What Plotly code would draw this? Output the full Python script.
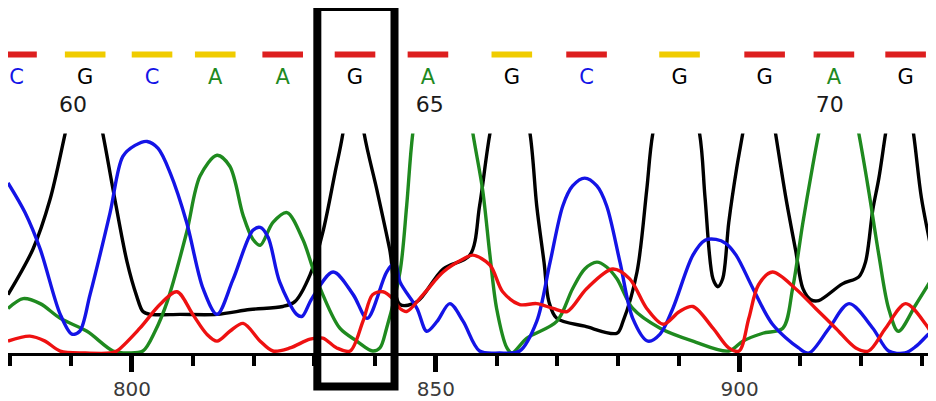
import plotly.graph_objects as go

# ---------------- data (scan position, signal 0-100 where 100 = top of window) -------------
g_scan = [779.6, 783.7, 786.5, 789.0, 792.1, 795.2, 796.9, 799.2, 800.8, 801.8, 803.0, 807.9,
          814.0, 819.4, 824.8, 826.8, 829.3, 831.4, 833.4, 834.7, 836.4, 838.2, 840.3, 842.4,
          844.1, 846.9, 851.2, 855.6, 857.2, 858.9, 862.3, 865.5, 866.6, 867.8, 868.6, 869.9,
          874.5, 879.8, 880.8, 883.1, 884.7, 885.7, 889.5, 893.4, 894.3, 895.6, 896.4, 897.2,
          898.2, 899.5, 900.5, 903.3, 905.9, 907.6, 909.2, 910.4, 911.7, 913.0, 916.9, 919.6,
          920.7, 921.9, 922.9, 924.0, 926.3, 928.6, 929.9, 931.8]
g_signal = [26.6, 47.3, 69.8, 100, 140, 100, 74.3, 41.4, 25.7, 18.9, 17.6, 17.6,
            17.6, 19.8, 21.2, 23.4, 35.6, 55.0, 82.0, 100, 140, 100, 74.3, 47.3,
            22.1, 23.4, 38.3, 44.6, 67.1, 100, 145, 100, 67.1, 41.4, 23.4, 15.8,
            12.2, 9.0, 14.4, 36.9, 74.3, 100, 145, 100, 70.7, 33.8, 30.2, 33.8,
            59.5, 84.2, 100, 145, 100, 70.7, 46.8, 29.3, 24.3, 23.9, 31.5, 34.7,
            41.4, 65.3, 79.7, 100, 140, 100, 70.7, 43.7]

c_scan = [779.6, 782.4, 784.9, 788.2, 790.1, 791.4, 793.1, 796.4, 798.5, 800.5, 802.5, 804.3,
          806.3, 809.0, 811.7, 814.0, 816.6, 819.9, 821.1, 822.4, 824.3, 827.1, 828.0, 829.6,
          833.1, 836.4, 838.7, 841.9, 843.3, 844.1, 846.9, 848.5, 850.2, 852.3, 854.5, 857.2,
          860.5, 863.8, 866.6, 868.8, 870.9, 872.5, 874.5, 876.5, 878.1, 880.3, 882.4, 884.9,
          886.9, 889.0, 892.3, 894.3, 896.1, 897.7, 899.4, 902.2, 905.4, 909.7, 911.4, 914.7,
          918.0, 921.9, 924.5, 927.2, 929.0, 931.1, 932.3]
c_signal = [77.5, 64.0, 47.3, 17.6, 8.6, 9.9, 26.6, 64.0, 89.6, 94.6, 96.4, 93.2,
            82.0, 59.5, 29.3, 17.6, 33.3, 55.9, 57.2, 52.7, 32.4, 17.6, 16.7, 24.8,
            36.9, 26.6, 15.8, 36.9, 41.4, 32.4, 20.3, 9.9, 14.4, 22.5, 14.4, 0.9,
            0.0, 0.9, 14.4, 41.4, 67.1, 76.1, 79.7, 76.1, 67.1, 41.4, 15.8, 5.4,
            8.6, 20.3, 44.6, 51.4, 51.8, 50.0, 44.6, 29.3, 13.1, 2.3, 0.0, 11.3,
            22.5, 11.3, 0.9, 0.0, 3.0, 8.6, 10.8]

a_scan = [779.6, 782.1, 784.9, 788.2, 792.6, 796.9, 799.3, 801.8, 803.8, 805.8, 809.0, 811.2,
          814.0, 816.1, 818.3, 819.9, 821.1, 823.2, 825.5, 828.1, 829.8, 831.4, 834.2, 837.0,
          839.6, 840.8, 841.9, 844.1, 845.2, 846.2, 849.5, 852.8, 856.1, 857.7, 858.9, 860.0,
          861.7, 862.5, 865.0, 869.9, 872.5, 874.5, 876.5, 878.1, 879.8, 882.4, 886.9, 892.3,
          898.2, 900.5, 903.8, 907.1, 908.7, 910.4, 912.0, 913.0, 916.3, 919.6, 921.2, 922.9,
          924.5, 926.1, 929.0, 932.3]
a_signal = [20.3, 24.8, 22.5, 15.8, 9.9, 0.9, 0.0, 0.9, 9.9, 23.4, 55.0, 80.6,
            90.1, 85.1, 62.6, 51.8, 49.1, 59.5, 64.0, 51.8, 38.3, 26.6, 11.3, 5.4,
            0.9, 2.3, 11.3, 36.9, 67.1, 100, 160, 160, 100, 74.3, 44.6, 20.3,
            2.3, 0.0, 6.8, 14.4, 29.3, 38.3, 41.4, 39.2, 33.8, 20.3, 11.3, 5.4,
            0.9, 5.4, 9.0, 11.3, 29.3, 59.5, 85.1, 100, 145, 100, 74.3, 44.6,
            20.3, 9.9, 22.1, 36.9]

t_scan = [779.6, 783.2, 785.7, 788.2, 792.3, 796.4, 797.5, 801.3, 804.6, 807.4, 810.0, 812.3,
          814.0, 816.1, 818.3, 821.1, 823.2, 826.0, 829.3, 831.4, 833.7, 835.9, 838.0, 839.6,
          841.3, 842.9, 844.1, 845.2, 847.9, 851.2, 854.5, 856.1, 858.9, 861.0, 863.8, 866.6,
          869.3, 871.6, 874.8, 879.1, 881.9, 884.7, 887.4, 890.1, 892.3, 895.6, 898.2, 899.9,
          901.5, 903.1, 905.4, 909.2, 912.5, 915.8, 919.1, 921.2, 924.0, 927.3, 930.6, 932.3]
t_signal = [5.4, 7.7, 5.4, 0.9, 0.0, 0.0, 0.9, 11.3, 22.1, 27.9, 17.6, 8.6,
            5.4, 9.9, 13.5, 5.4, 0.9, 2.3, 6.3, 6.8, 2.3, 0.9, 14.4, 26.6,
            27.9, 24.8, 20.3, 18.9, 26.6, 36.9, 42.8, 44.6, 40.1, 27.9, 22.1, 22.5,
            20.3, 18.9, 29.3, 38.3, 33.8, 20.3, 13.1, 18.9, 21.2, 11.3, 2.3, 0.9,
            15.8, 31.1, 36.9, 29.3, 20.3, 11.3, 2.3, 0.9, 11.3, 22.5, 13.1, 5.4]

base_calls = ["C", "G", "C", "A", "A", "G", "A", "G", "C", "G", "G", "A", "G"]
base_scan = [781.0, 792.3, 803.3, 813.7, 824.8, 836.7, 848.7, 862.5, 874.8, 890.1, 904.1, 915.5, 927.3]
base_quality = ["low", "mid", "mid", "mid", "low", "low", "low", "mid", "low", "mid", "low", "low", "low"]

position_labels = ["60", "65", "70"]
position_scan = [790.3, 849.0, 914.8]

highlight_start, highlight_end = 830.5, 843.2

x_range = [779.6, 932.3]
tick_values = [800, 850, 900]

# ---------------- styles -------------
trace_colors = {"G": "#000000", "A": "#1f8a1f", "C": "#1414e6", "T": "#ee1111"}
quality_colors = {"low": "#dd1f1f", "mid": "#f0cc00"}

fig = go.Figure()

for name, xs, ys in [("G", g_scan, g_signal), ("A", a_scan, a_signal),
                     ("C", c_scan, c_signal), ("T", t_scan, t_signal)]:
    fig.add_trace(go.Scatter(x=xs, y=ys, mode="lines", name=name,
                             line=dict(color=trace_colors[name], width=3.4, shape="spline", smoothing=0.9),
                             xaxis="x", yaxis="y", showlegend=False, hoverinfo="skip"))

# quality bars
fig.add_trace(go.Scatter(x=base_scan, y=[80] * len(base_scan), mode="markers",
                         marker=dict(symbol="line-ew", size=29,
                                     line=dict(width=6, color=[quality_colors[q] for q in base_quality])),
                         xaxis="x", yaxis="y2", cliponaxis=False, showlegend=False, hoverinfo="skip"))
# base letters
fig.add_trace(go.Scatter(x=base_scan, y=[55] * len(base_scan), mode="text", text=base_calls,
                         textfont=dict(family="DejaVu Sans", size=21,
                                       color=[trace_colors[b] for b in base_calls]),
                         xaxis="x", yaxis="y2", cliponaxis=False, showlegend=False, hoverinfo="skip"))
# position numbers
fig.add_trace(go.Scatter(x=position_scan, y=[27] * len(position_scan), mode="text", text=position_labels,
                         textfont=dict(family="DejaVu Sans", size=22, color="#1a1a1a"),
                         xaxis="x", yaxis="y2", cliponaxis=False, showlegend=False, hoverinfo="skip"))

fig.add_shape(type="rect", xref="x", yref="paper", x0=highlight_start, x1=highlight_end,
              y0=-0.0974, y1=1.0029, line=dict(color="black", width=8), layer="above")

fig.update_layout(
    width=928, height=393,
    margin=dict(l=0, r=0, t=0, b=44, pad=0),
    paper_bgcolor="white", plot_bgcolor="white",
    xaxis=dict(range=x_range, domain=[0, 1], anchor="y",
               showline=True, linecolor="black", linewidth=3,
               showgrid=False, zeroline=False,
               tickmode="array", tickvals=tick_values,
               ticks="outside", ticklen=16, tickwidth=5, tickcolor="black",
               tickfont=dict(family="DejaVu Sans", size=20, color="#3a3a3a"),
               minor=dict(dtick=10, tick0=800, ticks="outside", ticklen=10, tickwidth=4,
                          tickcolor="black", showgrid=False)),
    yaxis=dict(domain=[0, 0.6361], range=[0, 100], visible=False, fixedrange=True),
    yaxis2=dict(domain=[0.6361, 1], range=[0, 127], visible=False, anchor="x"),
)

fig.write_html("out.html")
